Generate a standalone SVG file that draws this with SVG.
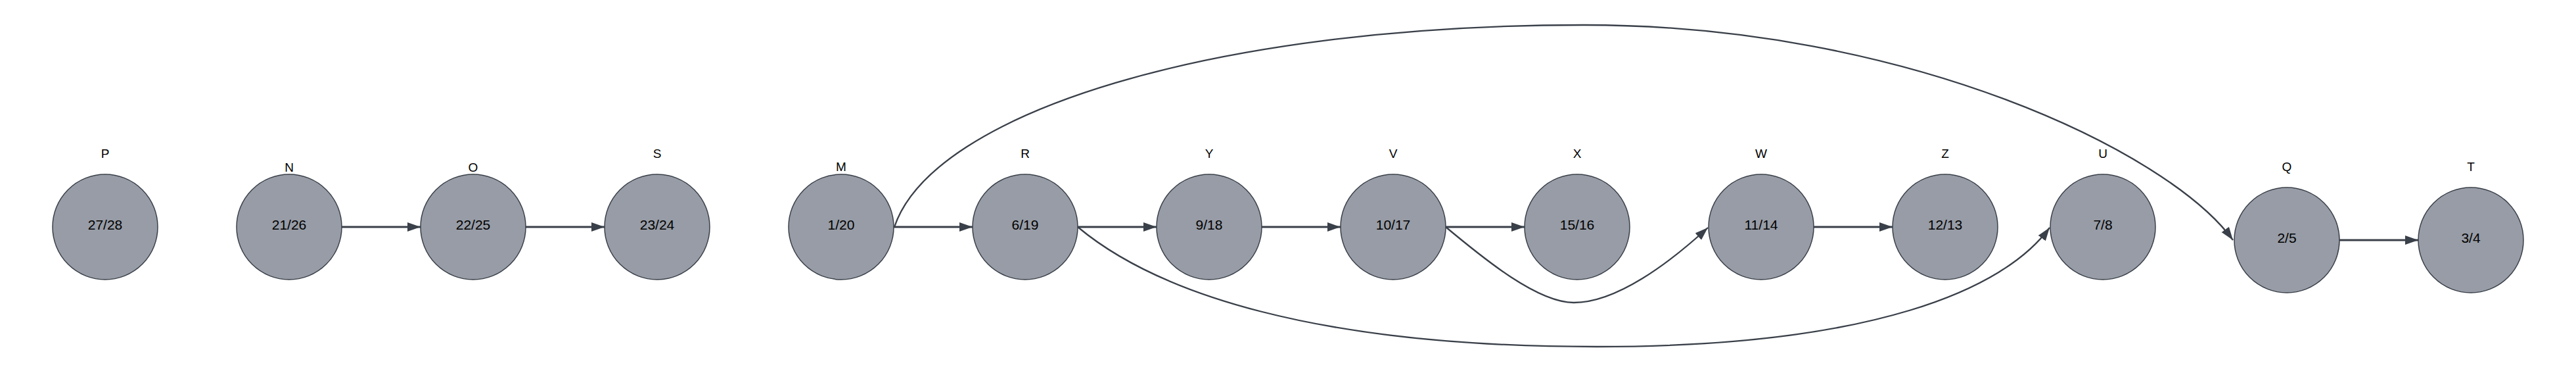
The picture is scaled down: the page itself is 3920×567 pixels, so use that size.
<svg xmlns="http://www.w3.org/2000/svg" width="3920" height="567" viewBox="0 0 3920 567">
<style>
.nd{fill:#979ca6;stroke:#3a4049;stroke-width:1.5}
.lb{font-family:"Liberation Sans",Arial,sans-serif;font-size:19px;fill:#000;text-anchor:middle}
.tx{font-family:"Liberation Sans",Arial,sans-serif;font-size:21px;fill:#000;text-anchor:middle}
.e{fill:none;stroke:#3a4049;stroke-width:3}
.c{fill:none;stroke:#3a4049;stroke-width:2.3}
</style>
<defs>
<marker id="ah" markerUnits="userSpaceOnUse" markerWidth="22" markerHeight="16" refX="20" refY="7" orient="auto">
<path d="M0,0 L20,7 L0,14 z" fill="#3a4049"/>
</marker>
</defs>
<rect width="3920" height="567" fill="#fff"/>
<g id="connectors">
<path class="e" d="M520,345 L640,345" marker-end="url(#ah)"/>
<path class="e" d="M800,345 L920,345" marker-end="url(#ah)"/>
<path class="e" d="M1360,345 L1480,345" marker-end="url(#ah)"/>
<path class="e" d="M1640,345 L1760,345" marker-end="url(#ah)"/>
<path class="e" d="M1920,345 L2040,345" marker-end="url(#ah)"/>
<path class="e" d="M2200,345 L2320,345" marker-end="url(#ah)"/>
<path class="e" d="M2760,345 L2880,345" marker-end="url(#ah)"/>
<path class="e" d="M3560,365 L3680,365" marker-end="url(#ah)"/>
<path class="c" d="M1361,345 C1420,170 1850,38 2410,38 C2900,38 3300,230 3398,365" marker-end="url(#ah)"/>
<path class="c" d="M1640,345 C1760,445 2000,527 2430,527 C2850,527 3050,440 3119,346" marker-end="url(#ah)"/>
<path class="c" d="M2200,345 C2260,395 2340,460 2395,460 C2460,460 2540,400 2599,346" marker-end="url(#ah)"/>
</g>
<g id="P"><circle class="nd" cx="160" cy="345" r="80"/><text class="lb" x="160" y="240">P</text><text class="tx" x="160" y="349">27/28</text></g>
<g id="N"><circle class="nd" cx="440" cy="345" r="80"/><text class="lb" x="440" y="261">N</text><text class="tx" x="440" y="349">21/26</text></g>
<g id="O"><circle class="nd" cx="720" cy="345" r="80"/><text class="lb" x="720" y="261">O</text><text class="tx" x="720" y="349">22/25</text></g>
<g id="S"><circle class="nd" cx="1000" cy="345" r="80"/><text class="lb" x="1000" y="240">S</text><text class="tx" x="1000" y="349">23/24</text></g>
<g id="M"><circle class="nd" cx="1280" cy="345" r="80"/><text class="lb" x="1280" y="260">M</text><text class="tx" x="1280" y="349">1/20</text></g>
<g id="R"><circle class="nd" cx="1560" cy="345" r="80"/><text class="lb" x="1560" y="240">R</text><text class="tx" x="1560" y="349">6/19</text></g>
<g id="Y"><circle class="nd" cx="1840" cy="345" r="80"/><text class="lb" x="1840" y="240">Y</text><text class="tx" x="1840" y="349">9/18</text></g>
<g id="V"><circle class="nd" cx="2120" cy="345" r="80"/><text class="lb" x="2120" y="240">V</text><text class="tx" x="2120" y="349">10/17</text></g>
<g id="X"><circle class="nd" cx="2400" cy="345" r="80"/><text class="lb" x="2400" y="240">X</text><text class="tx" x="2400" y="349">15/16</text></g>
<g id="W"><circle class="nd" cx="2680" cy="345" r="80"/><text class="lb" x="2680" y="240">W</text><text class="tx" x="2680" y="349">11/14</text></g>
<g id="Z"><circle class="nd" cx="2960" cy="345" r="80"/><text class="lb" x="2960" y="240">Z</text><text class="tx" x="2960" y="349">12/13</text></g>
<g id="U"><circle class="nd" cx="3200" cy="345" r="80"/><text class="lb" x="3200" y="240">U</text><text class="tx" x="3200" y="349">7/8</text></g>
<g id="Q"><circle class="nd" cx="3480" cy="365" r="80"/><text class="lb" x="3480" y="260">Q</text><text class="tx" x="3480" y="369">2/5</text></g>
<g id="T"><circle class="nd" cx="3760" cy="365" r="80"/><text class="lb" x="3760" y="260">T</text><text class="tx" x="3760" y="369">3/4</text></g>
</svg>
